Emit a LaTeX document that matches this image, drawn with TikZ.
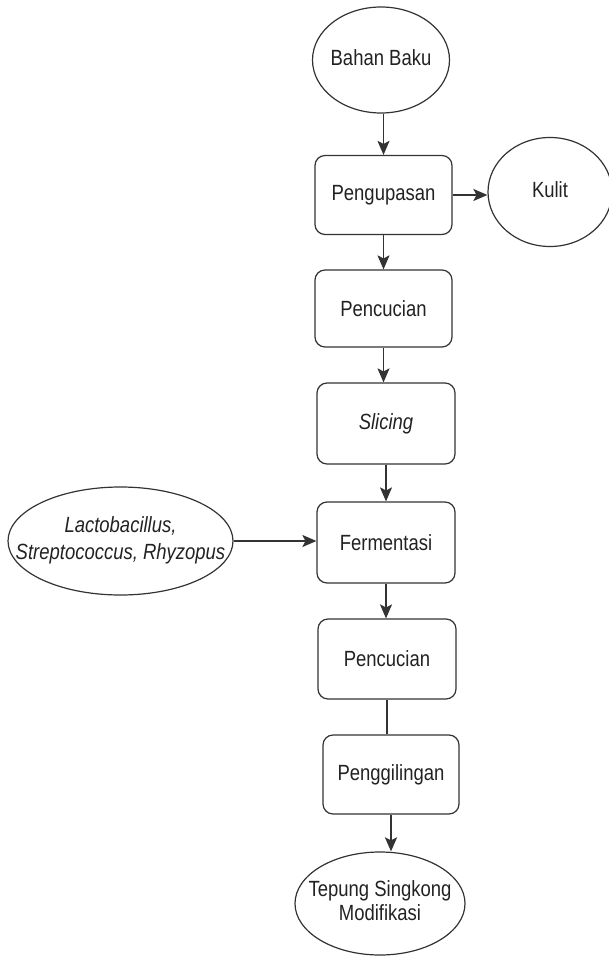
\documentclass[tikz,border=0pt]{standalone}
\usepackage{fontspec}
\setmainfont{Liberation Sans}[FakeStretch=0.84]
\usepackage{tikz}
\usetikzlibrary{arrows.meta}
\usetikzlibrary{shapes.geometric}
\definecolor{garis}{HTML}{333333}
\definecolor{teks}{HTML}{222222}
\newcommand{\tengah}[1]{\makebox[0pt]{\begin{tabular}{@{}c@{}}#1\end{tabular}}}

\begin{document}
\begin{tikzpicture}[x=1pt,y=-1pt,
  proses/.style={draw=garis,line width=1.2pt,rounded corners=10pt,minimum width=137pt,minimum height=79pt,inner sep=0pt,text=teks,font=\fontsize{22}{26}\selectfont},
  bulat/.style={draw=garis,line width=1.2pt,ellipse,inner sep=0pt,text=teks,font=\fontsize{22}{27}\selectfont},
  panah/.style={draw=garis,line width=1.2pt,-{Stealth[length=14pt,width=12pt,inset=3pt]}}]
\useasboundingbox (0,0) rectangle (608,957);

\node[bulat,minimum width=137pt,minimum height=106pt] (bahan) at (381,60) {\tengah{Bahan Baku}};
\node[proses] (kupas) at (383.5,195) {Pengupasan};
\node[bulat,minimum width=124pt,minimum height=109pt] (kulit) at (550,192) {\tengah{Kulit}};
\node[proses,minimum height=77pt] (cuci) at (383.5,308.5) {Pencucian};
\node[proses,minimum width=138pt,minimum height=81pt] (iris) at (386,423.5) {\itshape Slicing};
\node[proses,minimum width=138pt,minimum height=81pt] (fermen) at (386,542.5) {Fermentasi};
\node[bulat,minimum width=225pt,minimum height=108pt] (mikroba) at (120.5,541) {\tengah{\itshape Lactobacillus,\\\itshape Streptococcus, Rhyzopus}};
\node[proses,minimum width=138pt,minimum height=80pt] (cucidua) at (387,659) {Pencucian};
\node[proses,minimum width=136pt,minimum height=79pt] (giling) at (391,774.5) {Penggilingan};
\node[bulat,minimum width=170pt,minimum height=103pt,font=\fontsize{22}{24}\selectfont] (tepung) at (380,903.5) {\tengah{Tepung Singkong\\Modifikasi}};

\draw[panah] (bahan.south -| kupas.north) -- (kupas.north);
\draw[panah] (kupas.east) -- (kupas.east -| kulit.west);
\draw[panah] (kupas.south) -- (kupas.south |- cuci.north);
\draw[panah] (cuci.south) -- (cuci.south |- iris.north);
\draw[panah] (iris.south) -- (iris.south |- fermen.north);
\draw[panah] (mikroba.east) -- (mikroba.east -| fermen.west);
\draw[panah] (fermen.south) -- (fermen.south |- cucidua.north);
\draw[draw=garis,line width=1.2pt] (cucidua.south) -- (cucidua.south |- giling.north);
\draw[panah,line width=2.4pt] (giling.south) -- (giling.south |- tepung.north);
\end{tikzpicture}
\end{document}
